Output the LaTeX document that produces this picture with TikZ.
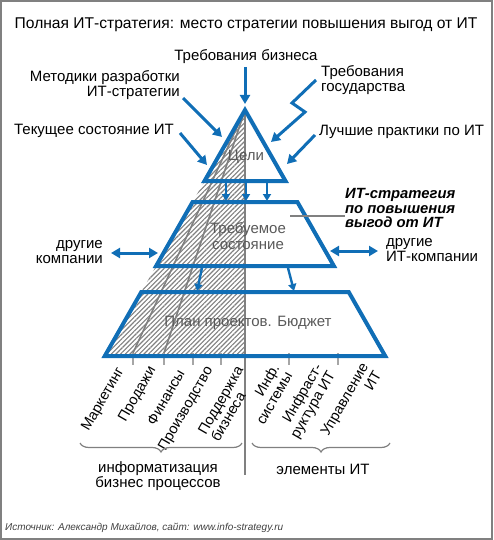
\documentclass[tikz,border=0pt]{standalone}
\usepackage{fontspec}
\setmainfont{Liberation Sans}
\usetikzlibrary{arrows.meta,patterns.meta,decorations.pathreplacing}
\definecolor{pblue}{RGB}{16,110,182}
\definecolor{lgray}{RGB}{128,128,128}
\begin{document}
\begin{tikzpicture}[x=1pt,y=-1pt,
  lbl/.style={font=\fontsize{15}{15.5}\selectfont, inner sep=0pt},
  tier/.style={draw=pblue, line width=4pt},
  barrow/.style={draw=pblue, line width=3pt, -{Triangle[length=9pt,width=10pt]}},
  darrow/.style={draw=pblue, line width=3pt, {Triangle[length=9pt,width=10pt]}-{Triangle[length=9pt,width=10pt]}},
  intext/.style={font=\fontsize{15}{16}\selectfont, text=black!65, inner sep=0pt, align=center},
  rlbl/.style={font=\fontsize{14.5}{15}\selectfont, rotate=60, anchor=east, inner sep=0pt},
  tick/.style={draw=lgray!70, line width=1.2pt},
  gline/.style={draw=lgray, line width=1.6pt},
  ]
\useasboundingbox (0,0) rectangle (493,540);
\draw[lgray, line width=2pt] (1,1) rectangle (492,539);

% title
\node[lbl, font=\fontsize{15.6}{16}\selectfont] (title) at (246,25) {Полная ИТ-стратегия: место стратегии повышения выгод от ИТ};

% pyramid coordinates
\coordinate (apex) at (245,110);
\coordinate (bl) at (104.8,356);
\coordinate (bc) at (245,356);
\coordinate (cbot) at (245,475);

% hatch
\fill[pattern={Lines[angle=45,distance=3.3pt,line width=1.1pt]}, pattern color=lgray] (apex) -- (bl) -- (bc) -- cycle;

% base ticks
\foreach \n/\x in {t1/133,t2/164,t3/193,t4/221,t5/289,t6/338}{
  \coordinate (\n) at (\x,353);
  \coordinate (\n b) at (\x,365);
  \draw[tick] (\n) -- (\n b);
}
% gray lines in hatch
\draw[gline] (apex) -- (t1);
\draw[gline] (apex) -- (t2);
\draw[gline] (apex) -- (cbot);

% tiers
\draw[tier] (245,110) -- (204.5,181) -- (285.5,181) -- cycle;
\draw[tier] (192.6,202) -- (297.4,202) -- (333.9,266) -- (156.1,266) -- cycle;
\draw[tier] (141.3,292) -- (348.7,292) -- (385.2,356) -- (104.8,356) -- cycle;

% texts inside
\node[intext] (goals) at (246,157) {Цели};
\node[intext] (req) at (248,236) {Требуемое\\состояние};
\node[intext] (plan) at (248,323) {План проектов. Бюджет};

% outside labels
\node[lbl] (bizreq) at (246,57) {Требования бизнеса};
\node[lbl, anchor=east, align=right] (method) at (180,85) {Методики разработки\\ИТ-стратегии};
\node[lbl, anchor=west, align=left] (gov) at (321,80) {Требования\\государства};
\node[lbl, anchor=east] (cur) at (174,131) {Текущее состояние ИТ};
\node[lbl, anchor=west] (best) at (319,132) {Лучшие практики по ИТ};
\node[lbl, anchor=east, align=right] (oth) at (103,252) {другие\\компании};
\node[lbl, anchor=west, align=left] (othit) at (386,250) {другие\\ИТ-компании};
\node[lbl, anchor=west, align=left, font=\fontsize{14.8}{14.3}\selectfont\bfseries\itshape] (strat) at (345,208) {ИТ-стратегия\\по повышения\\выгод от ИТ};

% leader
\coordinate (lead) at (290,216);
\draw[gline, line width=1.4pt] (lead) -- (lead -| strat.west);

% arrows into top
\coordinate (a1s) at (245,67);  \coordinate (a1e) at (245,104);
\draw[barrow] (a1s) -- (a1e);
\coordinate (a2s) at (183,98);  \coordinate (a2e) at (222,137);
\draw[barrow] (a2s) -- (a2e);
\coordinate (a3s) at (316,80); \coordinate (a3m) at (292,103); \coordinate (a3n) at (305,112); \coordinate (a3e) at (271,142);
\draw[barrow] (a3s) -- (a3m) -- (a3n) -- (a3e);
\coordinate (a4s) at (180,133); \coordinate (a4e) at (207,165);
\draw[barrow] (a4s) -- (a4e);
\coordinate (a5s) at (315,135); \coordinate (a5e) at (287,164);
\draw[barrow] (a5s) -- (a5e);

% arrows between tiers
\foreach \i/\x in {1/226,2/246,3/267}{
  \coordinate (d\i s) at (\x,183);
  \coordinate (d\i e) at (\x,201);
  \draw[barrow, -{Triangle[length=7pt,width=8pt]}, line width=2.4pt] (d\i s) -- (d\i e);
}
\coordinate (e1s) at (202,268); \coordinate (e1e) at (197,291);
\draw[barrow, -{Triangle[length=7pt,width=8pt]}, line width=2.4pt] (e1s) -- (e1e);
\coordinate (e2s) at (288,268); \coordinate (e2e) at (294,291);
\draw[barrow, -{Triangle[length=7pt,width=8pt]}, line width=2.4pt] (e2s) -- (e2e);

% side double arrows
\coordinate (l1) at (111,253); \coordinate (l2) at (158,253);
\draw[darrow] (l1) -- (l2);
\coordinate (r1) at (330,251); \coordinate (r2) at (378,251);
\draw[darrow] (r1) -- (r2);

% rotated labels
\node[rlbl] (mk) at (121,369) {Маркетинг};
\node[rlbl] (pr) at (153,368) {Продажи};
\node[rlbl] (fi) at (181,371) {Финансы};
\node[rlbl] (pd) at (210,368) {Производство};
\node[rlbl, align=left] (sp) at (246,371) {Поддержка\\бизнеса};
\node[rlbl, align=right] (is) at (282,369) {Инф.\\системы};
\node[rlbl, align=right] (inf) at (326,369) {Инфраст-\\руктура ИТ};
\node[rlbl, align=right] (mg) at (371,368) {Управление\\ИТ};

% braces
\coordinate (b1a) at (80,443); \coordinate (b1b) at (242,443);
\draw[lgray, line width=1.2pt, decorate, decoration={brace, mirror, amplitude=9pt}] (b1a) -- (b1b);
\coordinate (b2a) at (252,443); \coordinate (b2b) at (390,443);
\draw[lgray, line width=1.2pt, decorate, decoration={brace, mirror, amplitude=9pt}] (b2a) -- (b2b);

\node[lbl, align=center] (inf1) at (158,476) {информатизация\\бизнес процессов};
\node[lbl] (el) at (323,469) {элементы ИТ};

% source
\node[anchor=west, inner sep=0pt, font=\fontsize{10}{12}\selectfont\itshape, text=black!75] (src) at (5,528) {Источник: Александр Михайлов, сайт: www.info-strategy.ru};
\end{tikzpicture}
\end{document}
